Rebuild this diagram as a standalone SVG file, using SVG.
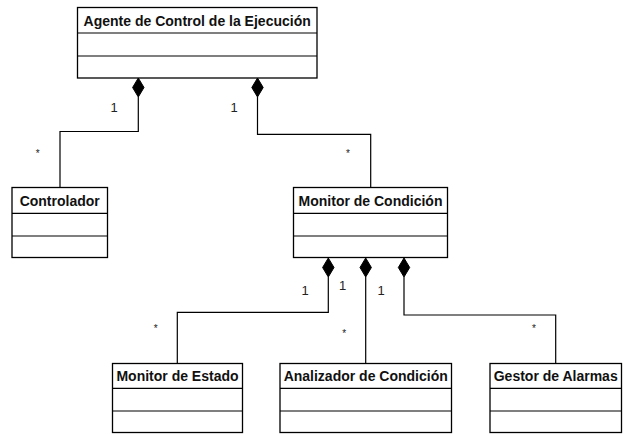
<svg xmlns="http://www.w3.org/2000/svg" width="632" height="434" viewBox="0 0 632 434">
  <style>
    .box { fill: #ffffff; stroke: #000000; stroke-width: 1.3; }
    .div { stroke: #000000; stroke-width: 1.2; }
    .title { font-family: "Liberation Sans", Arial, sans-serif; font-weight: bold; font-size: 14px; fill: #111111; text-anchor: middle; }
    .mult { font-family: "Liberation Sans", Arial, sans-serif; font-size: 13px; fill: #222222; text-anchor: middle; }
    .star { font-family: "Liberation Sans", Arial, sans-serif; font-size: 10px; fill: #222222; text-anchor: middle; }
    .link { fill: none; stroke: #000000; stroke-width: 1.2; }
    .diamond { fill: #000000; stroke: #000000; stroke-width: 1; }
  </style>
  <rect width="632" height="434" fill="#ffffff"/>

  <!-- classes -->
  <g id="agente">
    <rect class="box" x="77.5" y="7.5" width="239.5" height="70.5"/>
    <line class="div" x1="77.5" y1="33" x2="317" y2="33"/>
    <line class="div" x1="77.5" y1="56" x2="317" y2="56"/>
    <text class="title" x="197.2" y="25.5">Agente de Control de la Ejecución</text>
  </g>
  <g id="controlador">
    <rect class="box" x="12" y="187.5" width="95.5" height="70"/>
    <line class="div" x1="12" y1="213.3" x2="107.5" y2="213.3"/>
    <line class="div" x1="12" y1="236" x2="107.5" y2="236"/>
    <text class="title" x="59.7" y="205.5">Controlador</text>
  </g>
  <g id="monitor-condicion">
    <rect class="box" x="293.5" y="187.5" width="154" height="70"/>
    <line class="div" x1="293.5" y1="213.3" x2="447.5" y2="213.3"/>
    <line class="div" x1="293.5" y1="236" x2="447.5" y2="236"/>
    <text class="title" x="370.5" y="205.5">Monitor de Condición</text>
  </g>
  <g id="monitor-estado">
    <rect class="box" x="112.5" y="363.5" width="130" height="69"/>
    <line class="div" x1="112.5" y1="388.3" x2="242.5" y2="388.3"/>
    <line class="div" x1="112.5" y1="411" x2="242.5" y2="411"/>
    <text class="title" x="177.5" y="380.5">Monitor de Estado</text>
  </g>
  <g id="analizador">
    <rect class="box" x="280" y="363.5" width="171.5" height="69"/>
    <line class="div" x1="280" y1="388.3" x2="451.5" y2="388.3"/>
    <line class="div" x1="280" y1="411" x2="451.5" y2="411"/>
    <text class="title" x="365.7" y="380.5">Analizador de Condición</text>
  </g>
  <g id="gestor">
    <rect class="box" x="490" y="363.5" width="131.5" height="69"/>
    <line class="div" x1="490" y1="388.3" x2="621.5" y2="388.3"/>
    <line class="div" x1="490" y1="411" x2="621.5" y2="411"/>
    <text class="title" x="555.7" y="380.5">Gestor de Alarmas</text>
  </g>

  <!-- composition links -->
  <g id="connectors">
    <path class="link" d="M138.3,97 V131.5 H60 V187.5"/>
    <polygon class="diamond" points="138.3,78 144,87.5 138.3,97 132.6,87.5"/>
    <path class="link" d="M257.5,97 V134.3 H370.7 V187.5"/>
    <polygon class="diamond" points="257.5,78 263.2,87.5 257.5,97 251.8,87.5"/>

    <path class="link" d="M328.3,277 V312.3 H177.3 V363.5"/>
    <polygon class="diamond" points="328.3,258 334,267.5 328.3,277 322.6,267.5"/>
    <path class="link" d="M365.7,277 V363.5"/>
    <polygon class="diamond" points="365.7,258 371.4,267.5 365.7,277 360,267.5"/>
    <path class="link" d="M404,277 V315 H555.7 V363.5"/>
    <polygon class="diamond" points="404,258 409.7,267.5 404,277 398.3,267.5"/>

    <text class="mult" x="114" y="112">1</text>
    <text class="mult" x="234" y="112">1</text>
    <text class="star" x="37.7" y="157">*</text>
    <text class="star" x="348" y="157">*</text>
    <text class="mult" x="305" y="295">1</text>
    <text class="mult" x="342.7" y="290">1</text>
    <text class="mult" x="381" y="295">1</text>
    <text class="star" x="155.7" y="332">*</text>
    <text class="star" x="344.3" y="337">*</text>
    <text class="star" x="534" y="332">*</text>
  </g>
</svg>
